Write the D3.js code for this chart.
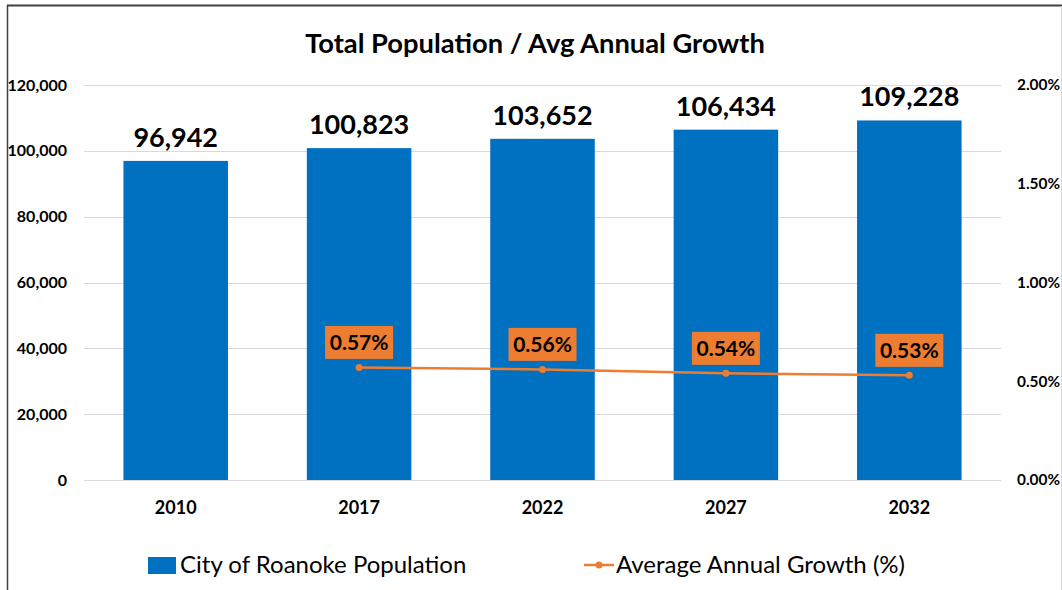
<!DOCTYPE html>
<html><head><meta charset="utf-8">
<script src="https://cdn.jsdelivr.net/npm/d3@7"></script>
<style>body{margin:0;background:#fff;} svg{display:block;font-family:Lato,"Open Sans",sans-serif;}</style>
</head><body>
<svg id="c" width="1062" height="590"></svg>
<script>
const categories = ["2010","2017","2022","2027","2032"];
const population = [96942,100823,103652,106434,109228];
const growth = [null,0.0057,0.0056,0.0054,0.0053];
const leftTicks = [0,20000,40000,60000,80000,100000,120000];
const rightTicks = [0,0.005,0.01,0.015,0.02];
const title = "Total Population / Avg Annual Growth";
const legendLabels = ["City of Roanoke Population","Average Annual Growth (%)"];

const blue = "#0070C0", orange = "#ED7D31";
const svg = d3.select("#c");
const W = 1062, H = 590;
svg.append("rect").attr("width",W).attr("height",H).attr("fill","#fff");
// frame
svg.append("line").attr("x1",7).attr("x2",W).attr("y1",5.5).attr("y2",5.5).attr("stroke","#404040").attr("stroke-width",2);
svg.append("line").attr("x1",7.5).attr("x2",7.5).attr("y1",5).attr("y2",H).attr("stroke","#404040").attr("stroke-width",1.5);
svg.append("line").attr("x1",1061.5).attr("x2",1061.5).attr("y1",6).attr("y2",H).attr("stroke","#d9d9d9").attr("stroke-width",1);

const x0 = 84, x1 = 1001, yTop = 85, yBot = 480;
const x = d3.scaleBand().domain(categories).range([x0,x1]).paddingInner(0.43).paddingOuter(0.215);
const y = d3.scaleLinear().domain([0,120000]).range([yBot,yTop]);
const y2 = d3.scaleLinear().domain([0,0.02]).range([yBot,yTop]);

svg.append("text").attr("x",535).attr("y",53).attr("text-anchor","middle")
  .attr("font-size",27.3).attr("font-weight","bold").attr("fill","#000").text(title);

// gridlines
svg.append("g").selectAll("line").data(leftTicks).join("line")
  .attr("x1",x0).attr("x2",x1).attr("y1",d=>Math.round(y(d))+0.5).attr("y2",d=>Math.round(y(d))+0.5)
  .attr("stroke","#d9d9d9").attr("stroke-width",1);

// left axis
const la = svg.append("g").attr("transform",`translate(67,0)`)
  .call(d3.axisLeft(y).tickValues(leftTicks).tickSize(0).tickPadding(0).tickFormat(d3.format(",")));
la.select(".domain").remove();
la.selectAll("text").attr("font-size",16).attr("font-weight","bold").attr("fill","#000").attr("font-family","Lato");

// right axis
const ra = svg.append("g").attr("transform",`translate(1017,0)`)
  .call(d3.axisRight(y2).tickValues(rightTicks).tickSize(0).tickPadding(0).tickFormat(d3.format(".2%")));
ra.select(".domain").remove();
ra.selectAll("text").attr("font-size",15.4).attr("font-weight","bold").attr("fill","#000").attr("font-family","Lato");

// bars
svg.append("g").selectAll("rect").data(population).join("rect")
  .attr("x",(d,i)=>x(categories[i])).attr("width",x.bandwidth())
  .attr("y",d=>y(d)).attr("height",d=>yBot-y(d)).attr("fill",blue);

svg.append("g").selectAll("text").data(population).join("text")
  .attr("x",(d,i)=>x(categories[i])+x.bandwidth()/2).attr("y",d=>y(d)-14)
  .attr("text-anchor","middle").attr("font-size",27).attr("font-weight","bold").attr("fill","#000")
  .text(d=>d3.format(",")(d));

// x labels
const xa = svg.append("g").attr("transform",`translate(0,${yBot})`)
  .call(d3.axisBottom(x).tickSize(0).tickPadding(0));
xa.select(".domain").remove();
xa.selectAll("text").attr("dy",null).attr("y",34).attr("font-size",18).attr("font-weight","bold").attr("fill","#000").attr("font-family","Lato");

// line
const pts = growth.map((g,i)=>({g,c:categories[i]})).filter(p=>p.g!=null);
const line = d3.line().x(p=>x(p.c)+x.bandwidth()/2).y(p=>y2(p.g));
svg.append("path").datum(pts).attr("d",line).attr("fill","none").attr("stroke",orange).attr("stroke-width",2.5);
svg.append("g").selectAll("circle").data(pts).join("circle")
  .attr("cx",p=>x(p.c)+x.bandwidth()/2).attr("cy",p=>y2(p.g)).attr("r",3.5).attr("fill",orange);

// labels in boxes
const lg = svg.append("g").selectAll("g").data(pts).join("g")
  .attr("transform",p=>`translate(${x(p.c)+x.bandwidth()/2},${y2(p.g)-25})`);
lg.append("rect").attr("x",-34).attr("y",-16.5).attr("width",68).attr("height",33).attr("fill",orange);
lg.append("text").attr("text-anchor","middle").attr("dy","0.36em").attr("font-size",21).attr("font-weight","bold")
  .attr("fill","#000").text(p=>d3.format(".2%")(p.g));

// legend
const leg = svg.append("g");
leg.append("rect").attr("x",148).attr("y",557).attr("width",28).attr("height",17).attr("fill",blue);
leg.append("text").attr("x",180).attr("y",573).attr("font-size",24).attr("fill","#000").text(legendLabels[0]);
leg.append("line").attr("x1",584).attr("x2",614).attr("y1",565).attr("y2",565).attr("stroke",orange).attr("stroke-width",2.5);
leg.append("circle").attr("cx",599).attr("cy",565).attr("r",3.5).attr("fill",orange);
leg.append("text").attr("x",616).attr("y",573).attr("font-size",24).attr("fill","#000").text(legendLabels[1]);
</script>
</body></html>
